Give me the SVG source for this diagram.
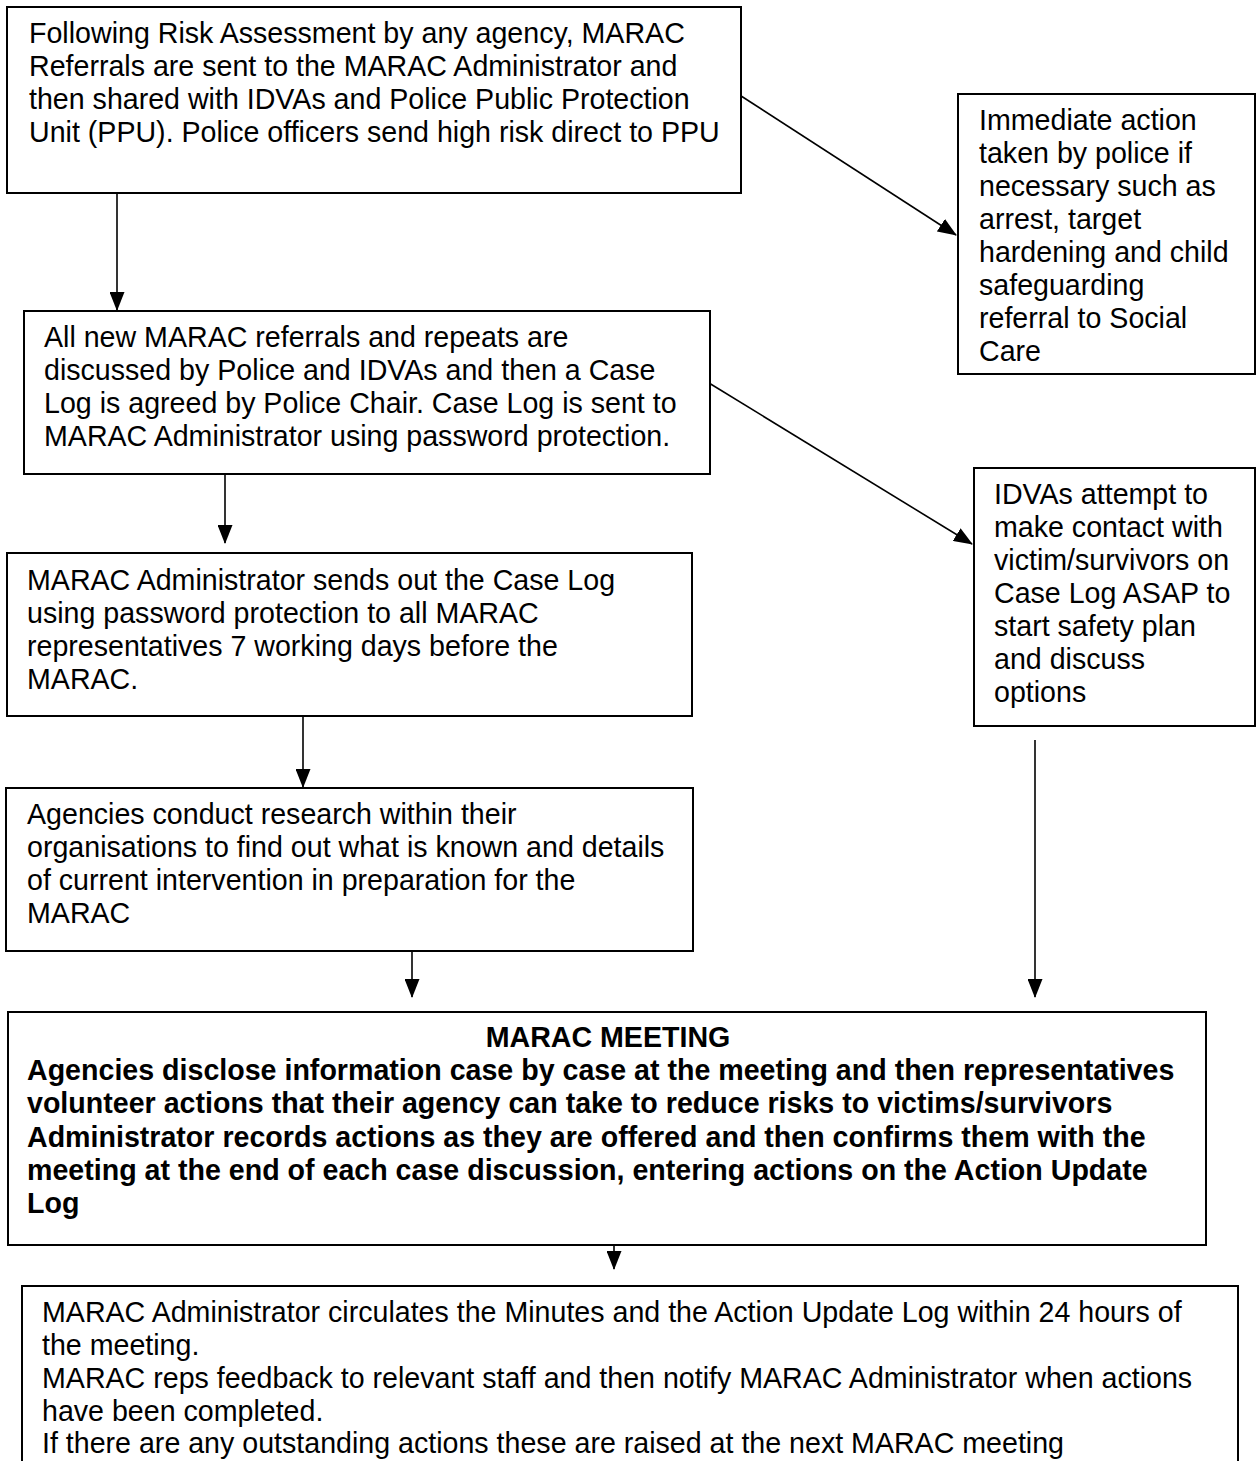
<svg xmlns="http://www.w3.org/2000/svg" width="1258" height="1461" viewBox="0 0 1258 1461">
<style>
.box{fill:#fff;stroke:#000;stroke-width:2}
.t{font-family:"Liberation Sans",Arial,sans-serif;font-size:28.6px;fill:#000}
.b{font-weight:bold}
.c{stroke:#000;stroke-width:1.6;fill:none;marker-end:url(#ah)}
</style>
<defs>
<marker id="ah" markerUnits="userSpaceOnUse" markerWidth="19" markerHeight="15" refX="18" refY="7.5" orient="auto" viewBox="0 0 19 15">
<path d="M0,0 L19,7.5 L0,15 Z" fill="#000"/>
</marker>
</defs>
<g id="connectors">
<line class="c" x1="117" y1="193" x2="117" y2="310"/>
<line class="c" x1="738" y1="94" x2="956" y2="235"/>
<line class="c" x1="225" y1="474" x2="225" y2="543"/>
<line class="c" x1="709" y1="383" x2="972" y2="544"/>
<line class="c" x1="303" y1="716" x2="303" y2="787"/>
<line class="c" x1="412" y1="951" x2="412" y2="997"/>
<line class="c" x1="1035" y1="740" x2="1035" y2="997"/>
<line class="c" x1="614" y1="1245" x2="614" y2="1269"/>
</g>
<g id="n1">
<rect class="box" x="7" y="7" width="734" height="186"/>
<text class="t"><tspan x="29" y="43">Following Risk Assessment by any agency, MARAC</tspan><tspan x="29" y="76">Referrals are sent to the MARAC Administrator and</tspan><tspan x="29" y="109">then shared with IDVAs and Police Public Protection</tspan><tspan x="29" y="142">Unit (PPU). Police officers send high risk direct to PPU</tspan></text>
</g>
<g id="n2">
<rect class="box" x="958" y="94" width="297" height="280"/>
<text class="t"><tspan x="979" y="130">Immediate action</tspan><tspan x="979" y="163">taken by police if</tspan><tspan x="979" y="196">necessary such as</tspan><tspan x="979" y="229">arrest, target</tspan><tspan x="979" y="262">hardening and child</tspan><tspan x="979" y="295">safeguarding</tspan><tspan x="979" y="328">referral to Social</tspan><tspan x="979" y="361">Care</tspan></text>
</g>
<g id="n3">
<rect class="box" x="24" y="311" width="686" height="163"/>
<text class="t"><tspan x="44" y="347">All new MARAC referrals and repeats are</tspan><tspan x="44" y="380">discussed by Police and IDVAs and then a Case</tspan><tspan x="44" y="413">Log is agreed by Police Chair. Case Log is sent to</tspan><tspan x="44" y="446">MARAC Administrator using password protection.</tspan></text>
</g>
<g id="n4">
<rect class="box" x="974" y="468" width="281" height="258"/>
<text class="t"><tspan x="994" y="504">IDVAs attempt to</tspan><tspan x="994" y="537">make contact with</tspan><tspan x="994" y="570">victim/survivors on</tspan><tspan x="994" y="603">Case Log ASAP to</tspan><tspan x="994" y="636">start safety plan</tspan><tspan x="994" y="669">and discuss</tspan><tspan x="994" y="702">options</tspan></text>
</g>
<g id="n5">
<rect class="box" x="7" y="553" width="685" height="163"/>
<text class="t"><tspan x="27" y="590">MARAC Administrator sends out the Case Log</tspan><tspan x="27" y="623">using password protection to all MARAC</tspan><tspan x="27" y="656">representatives 7 working days before the</tspan><tspan x="27" y="689">MARAC.</tspan></text>
</g>
<g id="n6">
<rect class="box" x="6" y="788" width="687" height="163"/>
<text class="t"><tspan x="27" y="824">Agencies conduct research within their</tspan><tspan x="27" y="857">organisations to find out what is known and details</tspan><tspan x="27" y="890">of current intervention in preparation for the</tspan><tspan x="27" y="923">MARAC</tspan></text>
</g>
<g id="n7">
<rect class="box" x="8" y="1012" width="1198" height="233"/>
<text class="t b" x="608" y="1047" text-anchor="middle">MARAC MEETING</text>
<text class="t b"><tspan x="27" y="1080">Agencies disclose information case by case at the meeting and then representatives</tspan><tspan x="27" y="1113">volunteer actions that their agency can take to reduce risks to victims/survivors</tspan><tspan x="27" y="1147">Administrator records actions as they are offered and then confirms them with the</tspan><tspan x="27" y="1180">meeting at the end of each case discussion, entering actions on the Action Update</tspan><tspan x="27" y="1213">Log</tspan></text>
</g>
<g id="n8">
<rect class="box" x="22" y="1286" width="1216" height="200"/>
<text class="t"><tspan x="42" y="1322">MARAC Administrator circulates the Minutes and the Action Update Log within 24 hours of</tspan><tspan x="42" y="1355">the meeting.</tspan><tspan x="42" y="1388">MARAC reps feedback to relevant staff and then notify MARAC Administrator when actions</tspan><tspan x="42" y="1421">have been completed.</tspan><tspan x="42" y="1453">If there are any outstanding actions these are raised at the next MARAC meeting</tspan></text>
</g>
</svg>
